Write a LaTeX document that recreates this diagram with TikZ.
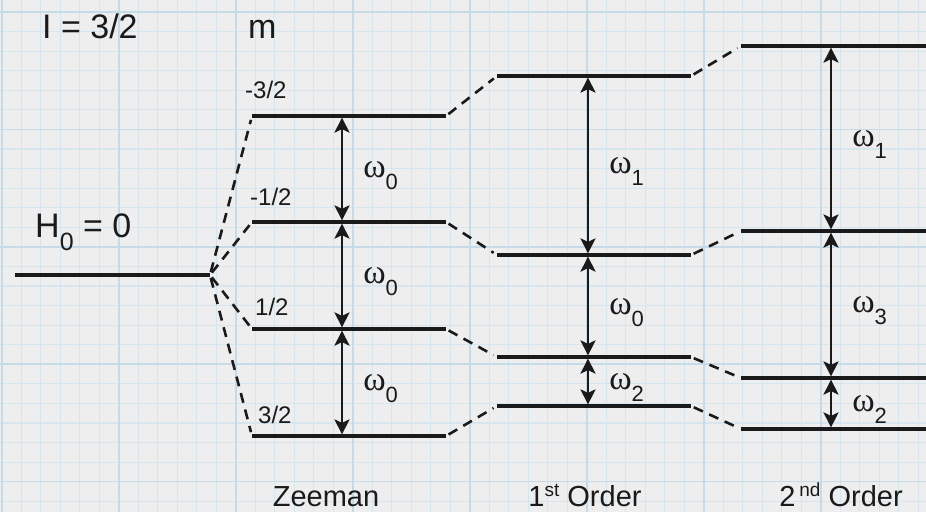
\documentclass[tikz,border=0pt]{standalone}
\usepackage{fontspec}
\setmainfont{Liberation Sans}
\newfontfamily\grk{Liberation Serif}
\usetikzlibrary{arrows.meta}
\definecolor{paper}{RGB}{238,238,238}
\definecolor{gridblue}{RGB}{214,229,238}
\definecolor{gridmajor}{RGB}{198,219,232}
\definecolor{ink}{RGB}{26,26,26}
\newcommand{\om}[1]{{\grk\fontsize{34}{34}\selectfont ω}\raisebox{-12pt}{\fontsize{22}{22}\selectfont #1}}
\tikzset{
  elevel/.style={ink, line width=3.2pt},
  split/.style={ink, line width=2.6pt, dash pattern=on 10pt off 7pt,
                shorten <=3pt, shorten >=4pt},
  gap/.style={{Stealth[length=15pt,width=15pt,inset=3.5pt]}-{Stealth[length=15pt,width=15pt,inset=3.5pt]},
              ink, line width=2.6pt, shorten <=1.6pt, shorten >=1.6pt},
  tag/.style={text=ink, inner sep=0pt, anchor=base west, font=\fontsize{34}{36}\selectfont},
  mtag/.style={tag, font=\fontsize{24}{26}\selectfont},
  ctag/.style={text=ink, inner sep=0pt, anchor=base, font=\fontsize{29}{32}\selectfont},
  wtag/.style={text=ink, inner sep=0pt, anchor=base west, xshift=20pt, yshift=-8pt},
}

\begin{document}
\begin{tikzpicture}[x=1pt, y=-1pt]
        \useasboundingbox (0,0) rectangle (926,512);

        % Paper
        \fill[paper] (0,0) rectangle (926,512);
        \foreach \i in {0,...,47} {
          \pgfmathsetmacro\x{1.7+19.5*\i}
          \draw[gridblue, line width=1.2pt] (\x,0) -- (\x,512);
        }
        \foreach \j in {0,...,25} {
          \pgfmathsetmacro\y{12+19.57*\j}
          \draw[gridblue, line width=1.2pt] (0,\y) -- (926,\y);
        }
        \foreach \i in {0,6,...,42} {
          \pgfmathsetmacro\x{1.7+19.5*\i}
          \draw[gridmajor, line width=1.6pt] (\x,0) -- (\x,512);
        }
        \foreach \j in {0,6,...,24} {
          \pgfmathsetmacro\y{12+19.57*\j}
          \draw[gridmajor, line width=1.6pt] (0,\y) -- (926,\y);
        }

        % Level ends
        \coordinate (h0l) at (15,275);
        \coordinate (h0r) at (210,275);
        \foreach \n/\y in {1/116,2/222,3/329,4/436} {
          \coordinate (z\n l) at (252,\y);
          \coordinate (z\n r) at (446,\y);
        }
        \foreach \n/\y in {1/76,2/255,3/357,4/406} {
          \coordinate (f\n l) at (497,\y);
          \coordinate (f\n r) at (691,\y);
        }
        \foreach \n/\y in {1/46,2/231,3/378,4/429} {
          \coordinate (s\n l) at (741,\y);
          \coordinate (s\n r) at (926,\y);
        }
        \coordinate (za) at (342,0);
        \coordinate (fa) at (588,0);
        \coordinate (sa) at (831,0);

        % Levels and splitting
        \draw[elevel] (h0l) -- (h0r);
        \foreach \n in {1,...,4} {
          \draw[elevel] (z\n l) -- (z\n r);
          \draw[elevel] (f\n l) -- (f\n r);
          \draw[elevel] (s\n l) -- (s\n r);
          \draw[split] (h0r) -- (z\n l);
          \draw[split] (z\n r) -- (f\n l);
          \draw[split] (f\n r) -- (s\n l);
        }

        % Zeeman
        \draw[gap] (za |- z1l) -- (za |- z2l) node[midway, wtag] (wz1) {\om{0}};
        \draw[gap] (za |- z2l) -- (za |- z3l) node[midway, wtag] (wz2) {\om{0}};
        \draw[gap] (za |- z3l) -- (za |- z4l) node[midway, wtag] (wz3) {\om{0}};

        % 1st order
        \draw[gap] (fa |- f1l) -- (fa |- f2l) node[midway, wtag] (wf1) {\om{1}};
        \draw[gap] (fa |- f2l) -- (fa |- f3l) node[midway, wtag] (wf2) {\om{0}};
        \draw[gap] (fa |- f3l) -- (fa |- f4l) node[midway, wtag] (wf3) {\om{2}};

        % 2nd order
        \draw[gap] (sa |- s1l) -- (sa |- s2l) node[midway, wtag] (ws1) {\om{1}};
        \draw[gap] (sa |- s2l) -- (sa |- s3l) node[midway, wtag] (ws2) {\om{3}};
        \draw[gap] (sa |- s3l) -- (sa |- s4l) node[midway, wtag] (ws3) {\om{2}};

        % Labels
        \node[tag] (spin) at (42,38) {I = 3/2};
        \node[tag] (mhead) at (248,38) {m};
        \node[tag] (hzero) at (35,237) {H\raisebox{-13pt}{\fontsize{25}{25}\selectfont 0} = 0};
        \node[mtag] (m1) at (245,98) {-3/2};
        \node[mtag] (m2) at (250,205) {-1/2};
        \node[mtag] (m3) at (255,315) {1/2};
        \node[mtag] (m4) at (258,423) {3/2};
        \node[ctag] (zeeman) at (326,506) {Zeeman};
        \node[ctag] (first) at (585,506) {1\raisebox{10pt}{\fontsize{19}{19}\selectfont st} Order};
        \node[ctag] (second) at (841,506) {2\hspace{4pt}\raisebox{10pt}{\fontsize{19}{19}\selectfont nd} Order};
      \end{tikzpicture}
\end{document}
